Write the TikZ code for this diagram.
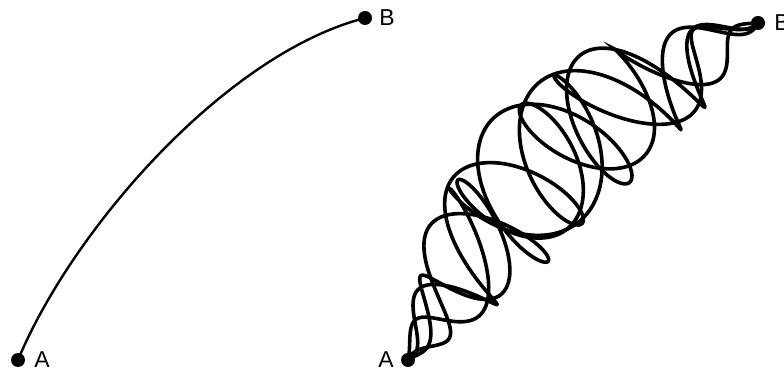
\documentclass[tikz,border=0pt]{standalone}
\usepackage{fontspec}
\setmainfont{Liberation Sans}
\usetikzlibrary{positioning}
\tikzset{
  endpt/.style={circle,fill=black,inner sep=0pt,minimum size=14pt},
  lbl/.style={inner sep=0pt,font=\fontsize{23}{23}\selectfont}
}
\begin{document}
\begin{tikzpicture}[x=1pt,y=1pt]
  \useasboundingbox (0,0) rectangle (784,372);
  % single smooth path
  \begin{scope}
    \node[endpt] (A1) at (18,12) {};
    \node[endpt] (B1) at (365,354) {};
    \node[lbl,right=9pt of A1] (lA1) {A};
    \node[lbl,right=7pt of B1] (lB1) {B};
    \draw[line width=2.4pt] (A1.center) .. controls (72,142) and (225,318) .. (B1.center);
  \end{scope}
  % many wiggly paths
  \begin{scope}
    \node[endpt] (A2) at (408,12) {};
    \node[endpt] (B2) at (758,349) {};
    \node[lbl,left=7pt of A2] (lA2) {A};
    \node[lbl,right=9pt of B2] (lB2) {B};
    \foreach \k/\ph/\r/\s in {3.6/20/1/1, 4.1/150/1.1/-1, 4.6/260/0.95/1, 3.9/320/1.05/-1} {
      \begin{scope}[shift={(A2.center)},rotate=43.9]
        \draw[line width=3.6pt] plot[domain=0:1,samples=300,smooth,variable=\t]
          ({486*\t+36*\s*\r*sin(180*\t)*sin(180*\t)*cos(360*\k*\t+\ph+35*sin(300*\t+\ph))},
           {45*sin(180*\t)+64*\r*sin(180*\t)*(1.5-0.5*sin(180*\t))*sin(360*\k*\t+\ph+35*sin(300*\t+\ph))});
      \end{scope}
    }
  \end{scope}
\end{tikzpicture}
\end{document}
